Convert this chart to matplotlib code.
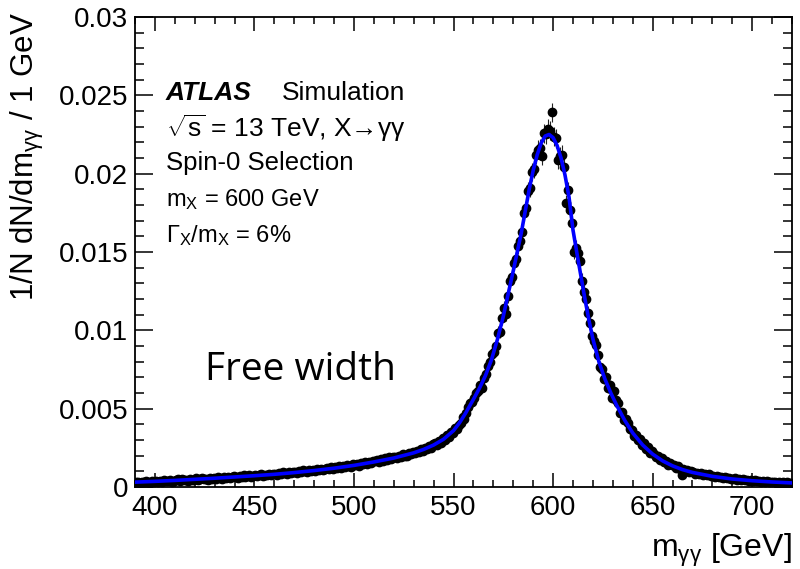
import numpy as np
import matplotlib
matplotlib.use("Agg")
import matplotlib.pyplot as plt
from matplotlib.ticker import MultipleLocator, FuncFormatter

plt.rcParams.update({
    "font.family": ["Liberation Sans", "DejaVu Sans"],
    "mathtext.fontset": "custom",
    "mathtext.rm": "Liberation Sans",
    "mathtext.it": "Liberation Sans:italic",
    "mathtext.bf": "Liberation Sans:bold",
})

# --- simulated m_yy spectrum, 1 GeV bins (bin centres 390.5 ... 719.5) -----------------------
bin_lo = 390
n_events = 60000  # for Poisson-style error bars
dndm = [
    .00029, .00035, .00027, .00033, .00030, .00038, .00032, .00028, .00036, .00033,
    .00041, .00034, .00039, .00031, .00043, .00036, .00040, .00046, .00035, .00039,
    .00044, .00048, .00038, .00051, .00043, .00047, .00041, .00052, .00046, .00044,
    .00055, .00047, .00052, .00058, .00049, .00054, .00046, .00057, .00051, .00059,
    .00053, .00061, .00057, .00050, .00063, .00059, .00066, .00055, .00062, .00068,
    .00067, .00060, .00071, .00065, .00074, .00062, .00069, .00076, .00066, .00072,
    .00078, .00070, .00075, .00083, .00071, .00079, .00074, .00085, .00077, .00081,
    .00086, .00079, .00090, .00083, .00094, .00087, .00082, .00096, .00089, .00093,
    .00098, .00091, .00101, .00095, .00106, .00099, .00093, .00108, .00102, .00110,
    .00104, .00113, .00109, .00118, .00106, .00116, .00121, .00112, .00125, .00117,
    .00126, .00119, .00131, .00124, .00136, .00129, .00141, .00133, .00127, .00144,
    .00140, .00148, .00137, .00153, .00145, .00158, .00150, .00162, .00155, .00166,
    .00163, .00171, .00159, .00176, .00168, .00183, .00174, .00189, .00180, .00192,
    .00190, .00184, .00199, .00193, .00208, .00201, .00196, .00215, .00209, .00224,
    .00216, .00231, .00222, .00240, .00229, .00251, .00242, .00259, .00250, .00272,
    .00278, .00271, .00296, .00284, .00312, .00303, .00330, .00318, .00352, .00347,
    .00375, .00369, .00398, .00411, .00447, .00436, .00472, .00512, .00534, .00541,
    .00566, .00603, .00612, .00648, .00633, .00694, .00719, .00774, .00801, .00846,
    .00861, .00902, .00984, .00992, .01078, .01141, .01103, .01219, .01317, .01338,
    .01432, .01458, .01541, .01573, .01629, .01752, .01782, .01891, .01908, .02011,
    .02031, .02118, .02152, .02163, .02112, .02258, .02251, .02287, .02274, .02391,
    .02236, .02227, .02089, .02112, .02121, .02042, .01812, .01893, .01771, .01684,
    .01503, .01526, .01492, .01441, .01316, .01245, .01198, .01112, .01047, .00963,
    .00931, .00905, .00841, .00768, .00752, .00689, .00702, .00633, .00648, .00571,
    .00612, .00557, .00538, .00471, .00479, .00425, .00431, .00408, .00371, .00366,
    .00328, .00334, .00297, .00306, .00265, .00281, .00241, .00256, .00219, .00231,
    .00211, .00189, .00196, .00171, .00182, .00158, .00165, .00138, .00151, .00142,
    .00139, .00121, .00131, .00112, .00079, .00115, .00101, .00108, .00093, .00102,
    .00097, .00086, .00091, .00083, .00089, .00078, .00084, .00074, .00080, .00071,
    .00072, .00064, .00069, .00061, .00066, .00058, .00063, .00055, .00060, .00053,
    .00049, .00055, .00046, .00052, .00044, .00049, .00042, .00047, .00040, .00045,
    .00038, .00043, .00036, .00040, .00034, .00039, .00033, .00037, .00031, .00035,
    .00030, .00034, .00028, .00032, .00027, .00031, .00025, .00029, .00026, .00028,
]

# --- fitted signal shape (free width) --------------------------------------------------------
fit_m = [390, 400, 410, 420, 430, 440, 450, 460, 470, 480, 490, 500, 510, 520, 530, 535,
         540, 545, 550, 553, 556, 560, 563, 566, 569, 572, 575, 578, 580, 582, 584, 586,
         588, 590, 592, 594, 596, 598, 600, 602, 604, 606, 608, 610, 612, 614, 616, 618,
         620, 623, 626, 629, 632, 636, 640, 645, 650, 655, 660, 665, 670, 680, 690, 700,
         710, 720]
fit_y = [.00031, .00036, .00042, .00049, .00056, .00064, .00072, .00081, .00092, .00105,
         .00120, .00138, .00160, .00185, .00218, .00240, .00268, .00305, .00360, .00410,
         .00470, .00560, .00630, .00710, .00810, .00940, .01090, .01265, .01380, .01500,
         .01620, .01760, .01900, .02020, .02120, .02195, .02240, .02250, .02230, .02180,
         .02100, .01990, .01850, .01640, .01490, .01345, .01200, .01065, .00945, .00800,
         .00690, .00600, .00520, .00425, .00345, .00268, .00210, .00167, .00135, .00111,
         .00093, .00068, .00051, .00040, .00032, .00026]

y = np.array(dndm)
x = bin_lo + 0.5 + np.arange(len(y))
yerr = np.sqrt(y / n_events)

fig = plt.figure(figsize=(8.0, 5.69), dpi=100)
ax = fig.add_axes([135 / 800, 82 / 569, 657 / 800, 470 / 569])

ax.errorbar(x, y, yerr=yerr, fmt="o", color="black", ms=6, elinewidth=0.8,
            ecolor="#222222", capsize=0, zorder=2)
ax.plot(fit_m, fit_y, color="#0000ff", lw=2.6, zorder=3)

ax.set_xlim(390, 720)
ax.set_ylim(0, 0.03)
ax.xaxis.set_major_locator(MultipleLocator(50))
ax.xaxis.set_minor_locator(MultipleLocator(10))
ax.yaxis.set_major_locator(MultipleLocator(0.005))
ax.yaxis.set_minor_locator(MultipleLocator(0.001))
ax.yaxis.set_major_formatter(FuncFormatter(lambda v, p: "%g" % round(v, 4)))
ax.tick_params(which="both", direction="in", top=True, right=True, width=1.1, labelsize=20)
ax.tick_params(axis="x", which="major", length=10, pad=6)
ax.tick_params(axis="x", which="minor", length=5)
ax.tick_params(axis="y", which="major", length=13, pad=5)
ax.tick_params(axis="y", which="minor", length=6.5)
for s in ax.spines.values():
    s.set_linewidth(1.3)

ax.set_xlabel(r"m$_{\mathrm{γγ}}$ [GeV]", fontsize=23, loc="right")
ax.xaxis.set_label_coords(1.0, -0.095)
ax.set_ylabel(r"1/N dN/dm$_{\mathrm{γγ}}$ / 1 GeV", fontsize=22.5, loc="top")
ax.yaxis.set_label_coords(-0.135, 1.01)

# --- ATLAS-style labels ------------------------------------------------------------------------
tx = (166 - 135) / 657
ax.text(tx, 0.838, "ATLAS", transform=ax.transAxes, fontsize=19, fontweight="bold",
        fontstyle="italic", va="center")
ax.text((282 - 135) / 657, 0.838, "Simulation", transform=ax.transAxes, fontsize=19,
        va="center")
ax.text(tx, 0.764, r"$\sqrt{\mathrm{s}}$ = 13 TeV, X→γγ", transform=ax.transAxes,
        fontsize=19, va="center")
ax.text(tx, 0.689, "Spin-0 Selection", transform=ax.transAxes, fontsize=18.5, va="center")
ax.text(tx, 0.611, r"m$_{\mathrm{X}}$ = 600 GeV", transform=ax.transAxes, fontsize=17,
        va="center")
ax.text(tx, 0.534, r"$\Gamma_{\mathrm{X}}$/m$_{\mathrm{X}}$ = 6%", transform=ax.transAxes,
        fontsize=17, va="center")
ax.text((205 - 135) / 657, 0.25, "Free width", transform=ax.transAxes, fontsize=28,
        family=["Open Sans", "DejaVu Sans"], va="center")

fig.savefig("out.png", dpi=100, facecolor="white")
